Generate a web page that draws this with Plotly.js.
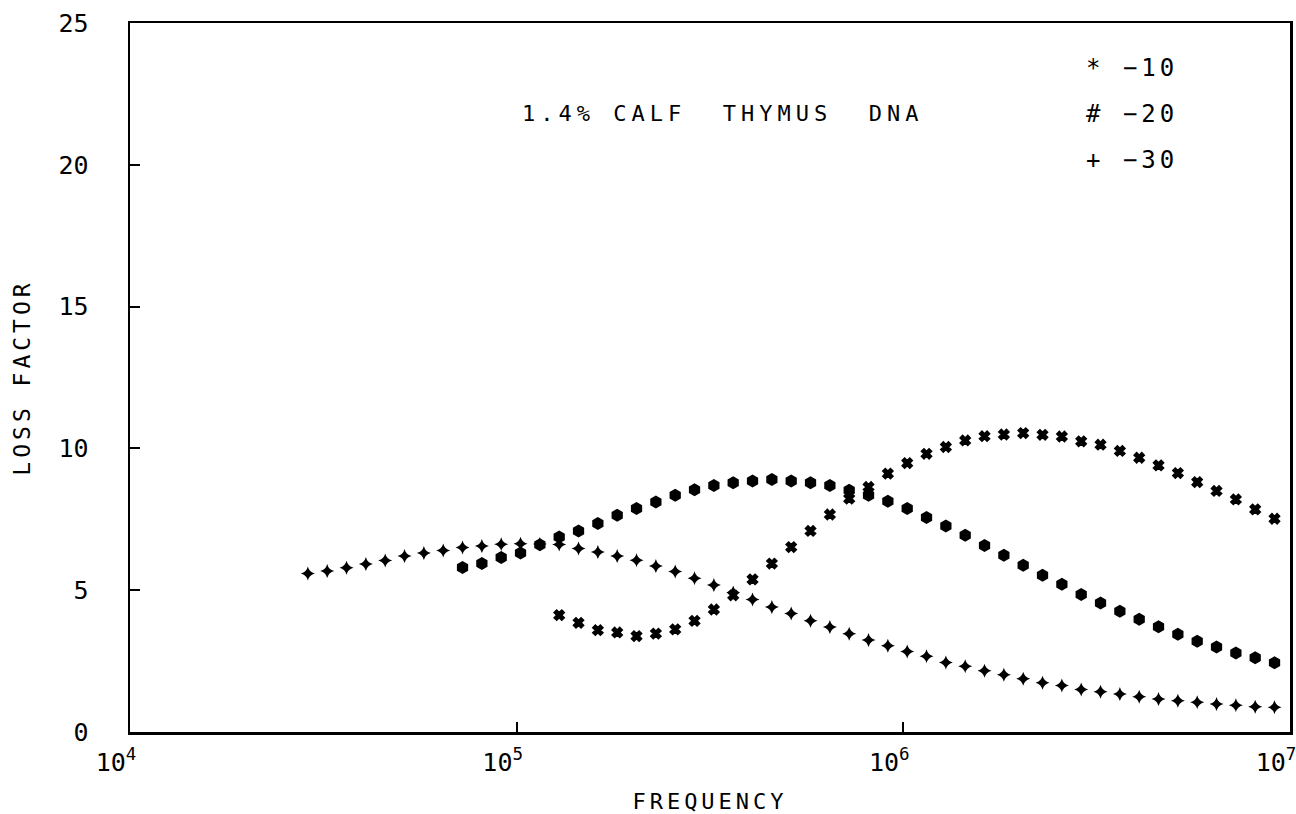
<!DOCTYPE html>
<html>
<head>
<meta charset="utf-8">
<script src="https://cdn.plot.ly/plotly-3.0.1.min.js"></script>
<style>
  html, body { margin: 0; padding: 0; background: #fff; }
  #chart { width: 1296px; height: 814px; }
  .g-xtitle text, .g-ytitle text { letter-spacing: 4px; }
</style>
</head>
<body>
<div id="chart"></div>
<script>
// Frequency grid (Hz), 0.05-decade steps
const frequency = [28840, 32359, 36308, 40738, 45709, 51286, 57544, 64565, 72444, 81283,
  91201, 102329, 114815, 128825, 144544, 162181, 181970, 204174, 229087, 257040,
  288403, 323594, 363078, 407380, 457088, 512861, 575440, 645654, 724436, 812831,
  912011, 1023293, 1148154, 1288250, 1445440, 1621810, 1819701, 2041738, 2290868, 2570396,
  2884032, 3235937, 3630781, 4073803, 4570882, 5128614, 5754399, 6456542, 7244360, 8128305,
  9120108];

// Series -30 (+): all 51 frequencies
const freqM30 = frequency.slice(0);
const lossM30 = [5.59, 5.68, 5.79, 5.92, 6.05, 6.21, 6.31, 6.40, 6.51, 6.56,
  6.62, 6.64, 6.63, 6.61, 6.47, 6.35, 6.21, 6.06, 5.85, 5.66,
  5.42, 5.18, 4.92, 4.67, 4.41, 4.18, 3.92, 3.70, 3.46, 3.24,
  3.04, 2.84, 2.67, 2.45, 2.32, 2.16, 2.02, 1.88, 1.74, 1.64,
  1.50, 1.42, 1.34, 1.24, 1.16, 1.10, 1.05, 0.99, 0.94, 0.89, 0.87];

// Series -20 (#): from the 9th frequency
const freqM20 = frequency.slice(8);
const lossM20 = [5.80, 5.94, 6.15, 6.31, 6.60, 6.88, 7.09, 7.35, 7.64, 7.88,
  8.11, 8.35, 8.54, 8.69, 8.79, 8.85, 8.90, 8.85, 8.79, 8.69,
  8.52, 8.35, 8.14, 7.88, 7.56, 7.26, 6.94, 6.58, 6.23, 5.88,
  5.53, 5.21, 4.85, 4.55, 4.26, 3.98, 3.71, 3.45, 3.20, 3.00,
  2.79, 2.62, 2.44];

// Series -10 (*): from the 14th frequency
const freqM10 = frequency.slice(13);
const lossM10 = [4.12, 3.85, 3.59, 3.51, 3.38, 3.47, 3.62, 3.92, 4.32, 4.82,
  5.38, 5.94, 6.52, 7.09, 7.67, 8.23, 8.64, 9.11, 9.48, 9.81,
  10.05, 10.28, 10.43, 10.49, 10.54, 10.48, 10.42, 10.25, 10.13, 9.91,
  9.67, 9.40, 9.13, 8.81, 8.50, 8.20, 7.85, 7.52];

const xTickVals = [1e4, 1e5, 1e6, 1e7];
const xTickText = ['10<sup>4</sup>', '10<sup>5</sup>', '10<sup>6</sup>', '10<sup>7</sup>'];
const yTickVals = [0, 5, 10, 15, 20, 25];
const legendLabels = ['* \u221210', '# \u221220', '+ \u221230'];
const chartTitle = '1.4% CALF  THYMUS  DNA';

const FONT = 'DejaVu Sans Mono, monospace';

const traces = [
  { x: freqM10, y: lossM10, name: '-10', type: 'scatter', mode: 'markers',
    marker: { symbol: 'x', size: 9, color: '#000', line: { color: '#000', width: 1.5 } } },
  { x: freqM20, y: lossM20, name: '-20', type: 'scatter', mode: 'markers',
    marker: { symbol: 'hexagon', size: 13, color: '#000', line: { width: 0 } } },
  { x: freqM30, y: lossM30, name: '-30', type: 'scatter', mode: 'markers',
    marker: { symbol: 'star-diamond', size: 10, color: '#000', line: { width: 0 } } }
];

const annotations = [
  { xref: 'paper', yref: 'paper', x: 0.511, y: 0.873, xanchor: 'center', yanchor: 'middle',
    text: chartTitle, showarrow: false, font: { family: FONT, size: 22, color: '#000' } }
];
legendLabels.forEach((t, i) => {
  annotations.push({ xref: 'paper', yref: 'paper', x: 0.831, y: 0.937 - i * 0.065,
    xanchor: 'left', yanchor: 'middle', text: t, showarrow: false,
    font: { family: FONT, size: 24, color: '#000' } });
});

const layout = {
  width: 1296, height: 814,
  margin: { l: 130, r: 6, t: 23, b: 82 },
  paper_bgcolor: '#fff', plot_bgcolor: '#fff',
  showlegend: false,
  font: { family: FONT, color: '#000', size: 24 },
  xaxis: {
    type: 'log', range: [4, 7],
    tickvals: xTickVals, ticktext: xTickText,
    ticks: 'inside', ticklen: 10, tickwidth: 2, tickcolor: '#000',
    showline: true, mirror: true, linecolor: '#000', linewidth: 2.5,
    showgrid: false, zeroline: false,
    tickfont: { family: FONT, size: 25, color: '#000' },
    ticklabelstandoff: 6,
    ticklabeloverflow: 'allow',
    title: { text: 'FREQUENCY', font: { family: FONT, size: 22, color: '#000' }, standoff: 18 },
    automargin: false
  },
  yaxis: {
    range: [0, 25], tickvals: yTickVals,
    ticks: 'inside', ticklen: 10, tickwidth: 2, tickcolor: '#000',
    showline: true, mirror: true, linecolor: '#000', linewidth: 2.5,
    showgrid: false, zeroline: false,
    tickfont: { family: FONT, size: 25, color: '#000' },
    ticklabelstandoff: 34,
    ticklabeloverflow: 'allow',
    title: { text: 'LOSS FACTOR', font: { family: FONT, size: 23, color: '#000' }, standoff: 22 },
    automargin: false
  },
  annotations: annotations
};

Plotly.newPlot('chart', traces, layout, { displayModeBar: false, staticPlot: true }).then(gd => {
  gd.querySelectorAll('.annotation-text').forEach((el, i) => {
    el.style.letterSpacing = i === 0 ? '5px' : '4px';
  });
  // plotter style: the "10" sits left of the tick, exponent just right of it
  gd.querySelectorAll('.xtick text').forEach(el => {
    el.setAttribute('transform', 'translate(-14,0) ' + (el.getAttribute('transform') || ''));
  });
});
</script>
</body>
</html>
